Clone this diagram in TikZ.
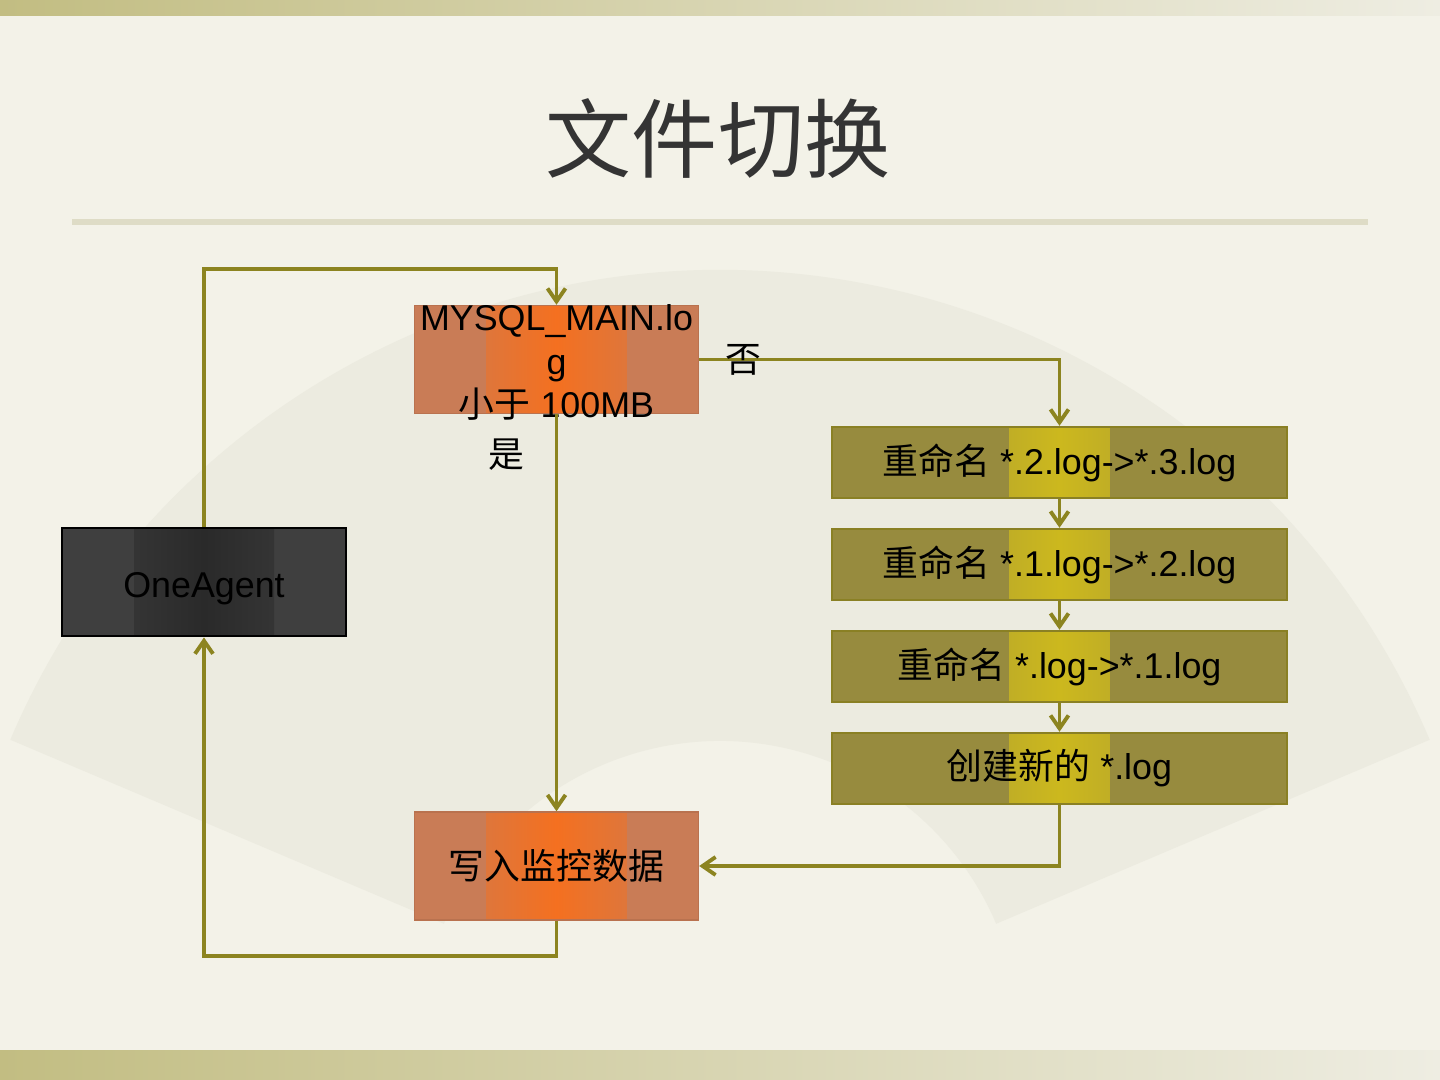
\documentclass[tikz,border=0pt]{standalone}
\usepackage{fontspec}
\setmainfont{Liberation Sans}
\newfontfamily\cjk{Noto Sans CJK SC}
\usetikzlibrary{arrows.meta}

\definecolor{slidebg}{RGB}{243,242,232}
\definecolor{bandleft}{RGB}{194,189,130}
\definecolor{bandright}{RGB}{238,237,226}
\definecolor{fangray}{RGB}{236,235,224}
\definecolor{rulecol}{RGB}{222,220,198}
\definecolor{titlegray}{RGB}{52,52,52}
\definecolor{linkolive}{RGB}{140,132,32}
\definecolor{rustbox}{RGB}{201,124,86}
\definecolor{hotorange}{RGB}{244,112,32}
\definecolor{olivebox}{RGB}{151,139,62}
\definecolor{oliveedge}{RGB}{138,128,36}
\definecolor{goldglow}{RGB}{204,184,30}
\definecolor{agentgray}{RGB}{63,63,63}
\definecolor{agentdark}{RGB}{42,42,42}

\newcommand\boxfont{\fontsize{10.2}{12.3}\selectfont}

\tikzset{
	midglow/.style n args={3}{path picture={
		\shade[left color=#1, right color=#1, middle color=#2]
		([xshift=-#3]path picture bounding box.south) rectangle
		([xshift=#3]path picture bounding box.north);}},
	rustnode/.style={rectangle, fill=rustbox, draw=rustbox!92!black,
		minimum width=2.84cm, minimum height=1.08cm, inner sep=0pt,
		font=\boxfont, midglow={rustbox}{hotorange}{0.7cm}},
	olivenode/.style={rectangle, fill=olivebox, draw=oliveedge, line width=0.7pt,
		minimum width=4.55cm, minimum height=0.71cm, inner sep=0pt,
		font=\boxfont, midglow={olivebox}{goldglow}{0.5cm}},
	agentnode/.style={rectangle, fill=agentgray, draw=black, line width=0.8pt,
		minimum width=2.84cm, minimum height=1.08cm, inner sep=0pt,
		font=\boxfont, text=black, midglow={agentgray}{agentdark}{0.7cm}},
	flow/.style={draw=linkolive, line width=1.1pt,
		-{Straight Barb[length=1.3mm, width=1.8mm]}},
	tag/.style={font=\boxfont\cjk, inner sep=0pt}
}

\begin{document}
\begin{tikzpicture}
		
		\useasboundingbox (0,0) rectangle (14.4,-10.8);
		
		% Slide
		\fill[slidebg] (0,0) rectangle (14.4,-10.8);
		\shade[left color=bandleft, right color=bandright] (0,0) rectangle (14.4,-0.16);
		\shade[left color=bandleft, right color=bandright] (0,-10.50) rectangle (14.4,-10.8);
		
		\fill[fangray] ([shift={(23:3)}]7.2,-10.41) -- ([shift={(23:7.71)}]7.2,-10.41)
		arc[start angle=23, end angle=157, radius=7.71]
		-- ([shift={(157:3)}]7.2,-10.41)
		arc[start angle=157, end angle=23, radius=3] -- cycle;
		
		\node[text=titlegray, font=\cjk\fontsize{24.5}{29}\selectfont] (title) at (7.18,-1.39) {文件切换};
		
		\draw[rulecol, line width=1.5pt] (0.72,-2.22) -- (13.68,-2.22);
		
		% Left column
		\node[agentnode] (agent) at (2.04,-5.82) {\raisebox{-1.8pt}[\height][\depth]{OneAgent}};
		
		\node[rustnode] (mysql) at (5.565,-3.595)
		{\smash{\raisebox{-3.4pt}{\parbox{2.8cm}{\centering MYSQL\_MAIN.lo\\g\\{\cjk 小于} 100MB}}}};
		
		\node[rustnode] (write) at (5.565,-8.66) {\cjk 写入监控数据};
		
		% Right column
		\node[olivenode] (ren3) at (10.595,-4.625) {{\cjk 重命名} *.2.log->*.3.log};
		
		\node[olivenode] (ren2) at (10.595,-5.645) {{\cjk 重命名} *.1.log->*.2.log};
		
		\node[olivenode] (ren1) at (10.595,-6.665) {{\cjk 重命名} *.log->*.1.log};
		
		\node[olivenode] (create) at (10.595,-7.685) {{\cjk 创建新的} *.log};
		
		% Links
		\draw[flow] (agent.north) -- ++(0,2.58) -| (mysql.north);
		\draw[flow] (mysql.east) -| (ren3.north);
		\draw[flow] (mysql.south) -- (write.north);
		\draw[flow] (ren3.south) -- (ren2.north);
		\draw[flow] (ren2.south) -- (ren1.north);
		\draw[flow] (ren1.south) -- (create.north);
		\draw[flow] (create.south) |- (write.east);
		\draw[flow] (write.south) -- ++(0,-0.35) -| (agent.south);
		
		\node[tag] (no) at (7.43,-3.60) {否};
		
		\node[tag] (yes) at (5.06,-4.55) {是};
		
	\end{tikzpicture}
\end{document}
